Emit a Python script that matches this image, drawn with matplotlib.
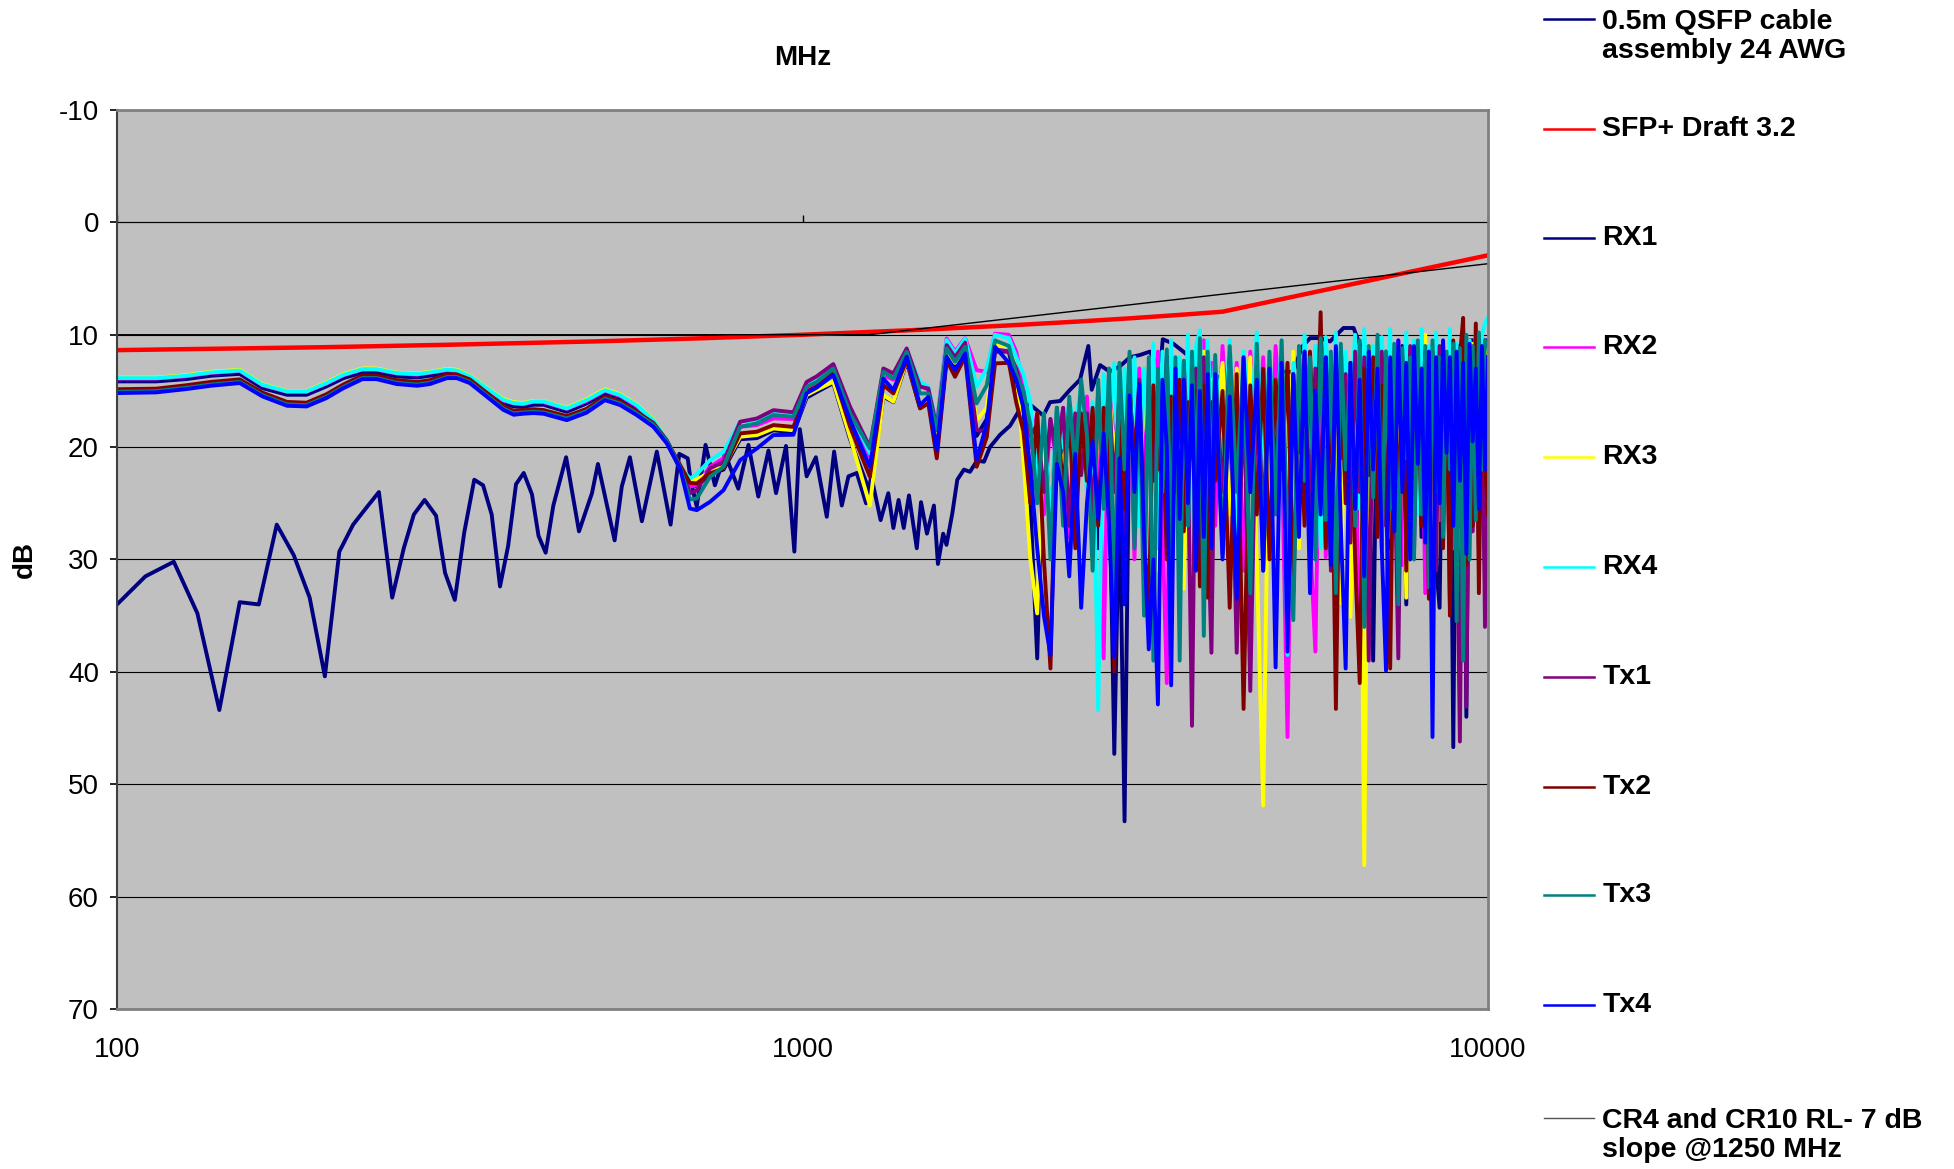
import matplotlib
matplotlib.use("Agg")
import matplotlib.pyplot as plt
from matplotlib.lines import Line2D
from matplotlib.ticker import NullLocator

plt.rcParams["font.family"] = ["Liberation Sans", "DejaVu Sans"]
plt.rcParams["axes.unicode_minus"] = False

# ---------------------------------------------------------------
# Return loss data (MHz, dB)
# ---------------------------------------------------------------

# 0.5m QSFP cable assembly 24 AWG
qsfp_f = [100, 110, 121, 131, 141, 151, 161, 171, 181, 191,
          201, 211, 221, 231, 241, 252, 262, 271, 281, 292,
          301, 311, 321, 332, 342, 352, 362, 372, 382, 392,
          403, 412, 422, 433, 452, 472, 493, 503, 532, 545,
          560, 583, 613, 642, 661, 680, 687, 701, 722, 745,
          771, 806, 834, 862, 892, 915, 946, 973, 991, 1014,
          1046, 1085, 1112, 1141, 1167, 1200, 1238, 1260, 1300, 1334,
          1357, 1381, 1405, 1430, 1468, 1489, 1519, 1555, 1576, 1604,
          1622, 1654, 1682, 1720, 1755, 1797, 1840, 1877, 1942, 2008,
          2077, 2147, 2246, 2297, 2375, 2456, 2540, 2612, 2642, 2717,
          2809, 2905, 3005, 3107, 3213, 3323, 3354, 3475, 3593, 3716,
          3843, 4000, 4200, 4400, 4545, 4700, 4918, 5202, 5351, 5501,
          5688, 5883, 6155, 6368, 6586, 6872, 7104, 7400, 7800, 8300,
          8800, 9400, 10000]
qsfp_db = [34.0, 31.5, 30.2, 34.8, 43.4, 33.8, 34.0, 26.9, 29.6, 33.4,
           40.4, 29.3, 26.9, 25.4, 24.0, 33.4, 29.0, 26.0, 24.7, 26.1,
           31.2, 33.6, 27.6, 22.9, 23.4, 26.0, 32.4, 28.8, 23.3, 22.3,
           24.2, 27.9, 29.4, 25.2, 20.9, 27.5, 24.1, 21.5, 28.3, 23.5,
           20.9, 26.6, 20.4, 26.9, 20.6, 21.0, 23.0, 25.3, 19.8, 23.4,
           20.6, 23.7, 19.8, 24.4, 20.3, 24.1, 19.9, 29.3, 18.4, 22.6,
           20.9, 26.2, 20.4, 25.2, 22.6, 22.3, 25.0, 22.6, 26.5, 24.1,
           27.2, 24.7, 27.2, 24.3, 29.0, 24.9, 27.7, 25.2, 30.4, 27.7,
           28.7, 25.9, 22.9, 22.0, 22.2, 21.2, 21.3, 20.0, 18.9, 18.1,
           16.6, 16.2, 17.2, 16.0, 15.9, 14.9, 14.0, 11.0, 14.9, 12.7,
           13.3, 12.8, 12.0, 11.8, 11.5, 13.3, 10.4, 10.8, 11.5, 12.3,
           12.8, 13.5, 15.0, 17.5, 17.9, 15.5, 13.3, 13.3, 11.1, 10.3,
           10.3, 10.6, 9.4, 9.4, 11.8, 12.0, 12.8, 12.5, 13.5, 12.0,
           11.5, 10.5, 10.5]

# SFP+ Draft 3.2 limit
sfp_f = [100, 200, 300, 500, 700, 1000, 1500, 2000, 2500, 3000, 3500, 4100, 10000]
sfp_db = [11.37, 11.11, 10.9, 10.59, 10.33, 10.0, 9.55, 9.17, 8.84, 8.54, 8.26, 7.95, 2.93]

# CR4 and CR10 RL limit
cr4_f = [100, 1250, 10000]
cr4_db = [10.0, 10.0, 3.68]

# lane sweeps: smooth low band at its turning points, noisy band on a common grid
f_lo = [100, 114, 126, 137, 151, 163, 177, 189, 202, 214, 228, 239, 256, 274, 286, 303,
        313, 327, 346, 366, 379, 391, 405, 419,
        453, 484, 515, 542, 573, 606, 634, 663, 685, 701,
        733, 767, 811, 858, 907, 970, 1014, 1049, 1109, 1173, 1254, 1312, 1357, 1419,
        1484, 1526, 1570, 1623, 1669, 1727, 1795, 1857, 1909]
f_hi = list(range(2000, 4000, 50)) + list(range(4000, 10001, 100))

rx1_lo = [14.15, 14.15, 13.95, 13.65, 13.48, 14.75, 15.34, 15.34, 14.6, 13.86, 13.36, 13.36,
          13.71, 13.8, 13.65, 13.4, 13.48, 14.0, 15.05, 16.09, 16.38, 16.44, 16.23, 16.23,
          16.86, 16.12, 15.23, 15.67, 16.56, 17.9, 19.6, 21.95, 23.2, 23.5,
          22.4, 22.0, 19.3, 19.2, 18.5, 18.7, 15.6, 15.1, 14.3, 19.3, 24.0, 15.5,
          16.0, 12.4, 16.5, 15.8, 20.5, 11.9, 12.8, 11.5, 19.0, 17.5, 11.5]
rx1_hi = [11.5, 14.5, 17.0, 25.0, 38.8, 17.5, 27.0, 17.5, 22.0, 17.0,
          25.5, 18.0, 20.0, 18.0, 29.0, 17.0, 21.0, 47.3, 24.0, 53.3,
          16.0, 22.0, 15.0, 26.0, 15.5, 20.5, 14.5, 29.0, 15.0, 23.0,
          13.5, 27.0, 14.0, 21.5, 13.0, 25.0, 14.5, 19.0, 12.5, 28.0,
          14.0, 22.0, 12.5, 30.0, 13.5, 24.0, 12.0, 27.5, 14.0, 21.0,
          12.5, 33.0, 13.0, 22.5, 11.5, 28.0, 12.5, 24.0, 11.0, 30.0,
          13.0, 23.0, 12.0, 27.0, 11.5, 32.0, 12.5, 21.5, 39.0, 12.0,
          25.0, 11.5, 29.0, 13.0, 22.0, 11.0, 34.0, 12.5, 24.5, 11.5,
          28.0, 12.0, 21.0, 11.0, 30.5, 34.3, 12.5, 23.0, 11.5, 46.7,
          12.0, 27.0, 11.0, 44.0, 12.5, 24.0, 10.5, 29.0, 12.0, 32.0,
          20.0]

rx2_lo = [13.9, 13.9, 13.7, 13.4, 13.22, 14.5, 15.08, 15.08, 14.35, 13.6, 13.1, 13.1,
          13.45, 13.55, 13.38, 13.15, 13.22, 13.75, 14.8, 15.85, 16.12, 16.18, 15.97, 16.0,
          16.6, 15.9, 15.0, 15.45, 16.35, 17.7, 19.5, 21.9, 23.5, 23.38,
          21.75, 21.0, 18.19, 18.04, 17.45, 17.5, 14.78, 14.3, 13.15, 17.45, 20.86, 13.6,
          14.0, 11.4, 14.5, 14.9, 18.0, 10.33, 11.5, 10.3, 13.15, 13.3, 9.9]
rx2_hi = [10.0, 11.5, 14.7, 20.0, 17.0, 26.0, 17.5, 22.0, 16.5, 28.0,
          17.0, 19.0, 15.5, 24.0, 15.0, 38.8, 14.0, 20.5, 14.0, 26.0,
          13.5, 30.0, 13.0, 22.5, 13.5, 19.0, 11.5, 27.0, 41.0, 12.0,
          21.0, 13.0, 25.0, 11.0, 18.5, 12.0, 24.0, 10.5, 20.0, 12.5,
          27.0, 11.0, 22.0, 12.5, 31.0, 11.5, 20.5, 12.0, 26.0, 11.0,
          19.5, 45.8, 12.0, 24.0, 11.5, 28.0, 38.2, 11.0, 29.8, 12.0,
          36.8, 11.5, 23.0, 12.5, 20.0, 36.3, 11.0, 25.0, 12.0, 18.5,
          11.5, 27.0, 12.0, 21.0, 10.5, 30.5, 11.5, 19.5, 12.5, 24.0,
          11.0, 33.0, 12.0, 22.0, 10.8, 26.5, 11.5, 20.0, 12.0, 29.0,
          11.0, 23.5, 12.5, 31.0, 10.5, 19.0, 11.5, 25.0, 10.5, 14.0,
          12.5]

rx3_lo = [13.82, 13.82, 13.6, 13.3, 13.12, 14.4, 15.0, 15.0, 14.25, 13.5, 13.0, 13.0,
          13.38, 13.45, 13.3, 13.05, 13.12, 13.65, 14.7, 15.72, 16.0, 16.08, 15.88, 15.9,
          16.5, 15.75, 14.85, 15.3, 16.2, 17.55, 19.4, 21.8, 22.94, 22.9,
          22.2, 21.75, 19.08, 18.93, 18.34, 18.5, 15.37, 14.9, 14.18, 19.08, 25.2, 15.37,
          15.96, 12.26, 16.26, 15.6, 19.5, 11.66, 12.5, 11.3, 17.6, 16.5, 11.0]
rx3_hi = [11.0, 13.0, 21.0, 30.0, 34.8, 18.0, 28.0, 18.5, 22.0, 17.5,
          26.0, 17.0, 20.0, 30.5, 16.0, 24.0, 15.0, 21.0, 15.5, 27.0,
          14.5, 19.0, 25.5, 14.0, 22.0, 15.0, 31.0, 12.5, 18.0, 24.0,
          12.8, 21.0, 32.6, 15.0, 38.3, 12.0, 20.0, 11.5, 27.5, 14.0,
          19.5, 12.5, 26.0, 13.0, 23.0, 12.0, 30.0, 51.9, 13.5, 21.0,
          12.0, 25.0, 11.5, 29.0, 13.0, 18.0, 12.5, 27.0, 11.5, 22.0,
          13.0, 33.9, 12.0, 35.1, 20.0, 12.5, 57.2, 11.0, 24.0, 13.5,
          19.0, 12.0, 28.0, 11.5, 22.5, 13.0, 33.4, 11.0, 18.5, 12.5,
          26.0, 10.0, 21.0, 12.5, 30.0, 11.0, 19.5, 12.0, 24.5, 10.5,
          22.0, 11.5, 28.0, 12.0, 18.0, 10.8, 25.0, 12.0, 20.5, 11.5,
          13.0]

rx4_lo = [13.86, 13.86, 13.65, 13.35, 13.18, 14.45, 15.04, 15.04, 14.3, 13.56, 13.06, 13.06,
          13.41, 13.5, 13.35, 13.1, 13.18, 13.7, 14.75, 15.79, 16.08, 16.14, 15.93, 15.93,
          16.56, 15.82, 14.93, 15.37, 16.26, 17.6, 19.38, 21.75, 22.8, 22.4,
          21.16, 20.42, 17.74, 17.6, 16.85, 17.0, 14.5, 14.0, 12.85, 16.85, 20.56, 13.44,
          13.59, 11.51, 14.18, 14.63, 18.19, 10.47, 11.66, 10.33, 14.63, 13.0, 10.0]
rx4_hi = [10.3, 12.0, 13.5, 16.0, 23.0, 17.0, 27.0, 16.5, 20.0, 16.0,
          18.0, 14.5, 24.0, 16.0, 43.4, 13.5, 17.5, 12.5, 25.0, 13.0,
          20.0, 12.0, 27.0, 13.0, 18.5, 10.8, 29.0, 11.5, 22.0, 10.5,
          25.0, 12.0, 19.0, 10.0, 30.0, 11.0, 9.6, 21.0, 10.5, 17.5,
          12.0, 21.5, 10.5, 28.5, 11.5, 19.0, 9.8, 22.0, 12.0, 20.0,
          10.5, 38.5, 12.5, 24.5, 10.0, 20.0, 11.0, 29.0, 10.2, 18.5,
          9.8, 22.0, 11.5, 16.5, 10.0, 25.5, 9.5, 19.0, 11.0, 21.0,
          10.2, 17.0, 9.5, 23.5, 11.0, 15.5, 9.8, 20.0, 10.5, 26.0,
          9.5, 18.0, 11.0, 22.5, 9.8, 16.0, 10.5, 24.0, 9.5, 19.0,
          10.8, 21.5, 9.2, 17.0, 10.5, 23.0, 9.0, 18.5, 10.0, 9.0,
          8.5]

tx1_lo = [15.05, 14.98, 14.7, 14.4, 14.16, 15.35, 16.17, 16.24, 15.5, 14.6, 13.82, 13.82,
          14.25, 14.4, 14.25, 13.73, 13.73, 14.17, 15.35, 16.54, 16.97, 16.9, 16.83, 16.9,
          17.4, 16.75, 15.65, 16.05, 16.9, 17.85, 19.4, 21.7, 24.12, 23.83,
          21.9, 21.3, 17.74, 17.45, 16.71, 16.9, 14.2, 13.7, 12.61, 16.4, 20.0, 13.0,
          13.44, 11.22, 14.63, 14.78, 18.3, 10.92, 12.0, 10.7, 18.49, 18.6, 11.3]
tx1_hi = [11.5, 13.0, 15.5, 19.0, 18.0, 24.0, 17.5, 21.0, 16.5, 27.0,
          17.0, 22.5, 17.0, 26.0, 17.0, 20.0, 15.0, 24.0, 15.0, 29.0,
          15.0, 21.0, 14.0, 27.5, 14.0, 23.0, 15.0, 19.5, 12.0, 25.0,
          14.0, 30.0, 12.5, 21.0, 44.8, 13.0, 22.0, 12.0, 26.0, 38.3,
          13.5, 24.0, 12.0, 38.3, 14.0, 41.7, 12.5, 27.0, 13.0, 22.5,
          12.0, 30.0, 13.5, 20.5, 11.5, 26.0, 13.0, 23.5, 12.0, 31.0,
          12.5, 21.0, 13.5, 28.5, 11.5, 24.0, 12.0, 39.0, 13.0, 22.0,
          11.5, 27.0, 12.5, 20.0, 38.8, 12.0, 25.0, 11.0, 29.5, 12.5,
          21.5, 11.5, 26.0, 13.0, 31.0, 11.0, 23.5, 12.0, 34.0, 11.5,
          24.0, 46.2, 12.0, 43.1, 11.0, 27.5, 12.5, 21.0, 11.5, 36.0,
          12.0]

tx2_lo = [14.85, 14.8, 14.5, 14.2, 13.97, 15.15, 15.98, 16.05, 15.3, 14.42, 13.62, 13.62,
          14.05, 14.2, 14.05, 13.53, 13.53, 13.97, 15.15, 16.34, 16.78, 16.7, 16.63, 16.7,
          17.25, 16.6, 15.5, 15.95, 16.85, 17.9, 19.5, 21.6, 23.18, 23.23,
          22.34, 21.9, 18.78, 18.63, 18.04, 18.2, 15.07, 14.6, 13.44, 18.19, 22.64, 14.48,
          15.22, 12.26, 16.56, 16.11, 21.0, 12.26, 13.74, 11.96, 21.75, 19.1, 12.55]
tx2_hi = [12.5, 16.0, 18.6, 25.0, 17.0, 30.0, 39.7, 16.5, 24.0, 16.5,
          29.0, 17.0, 23.0, 16.5, 27.0, 16.5, 21.0, 40.0, 17.0, 25.5,
          15.0, 21.0, 16.0, 28.0, 35.0, 14.5, 22.0, 16.0, 30.0, 15.5,
          24.0, 14.0, 27.5, 16.0, 21.0, 15.0, 32.4, 14.5, 33.4, 16.0,
          23.0, 15.0, 34.3, 13.5, 43.3, 14.5, 26.0, 13.0, 30.0, 14.0,
          22.0, 12.5, 33.0, 14.0, 27.0, 11.5, 24.0, 8.0, 29.0, 13.0,
          43.3, 12.5, 25.0, 14.0, 30.0, 41.0, 13.0, 22.5, 12.0, 28.0,
          14.5, 24.0, 39.7, 12.5, 26.5, 13.5, 31.0, 12.0, 21.5, 14.0,
          27.0, 12.5, 33.5, 11.5, 23.0, 13.5, 29.0, 12.0, 35.0, 10.5,
          25.0, 12.0, 8.5, 30.5, 11.5, 27.0, 9.0, 33.0, 12.5, 21.0,
          26.0]

tx3_lo = [15.08, 15.02, 14.73, 14.43, 14.2, 15.38, 16.2, 16.27, 15.53, 14.64, 13.85, 13.85,
          14.28, 14.43, 14.28, 13.76, 13.76, 14.2, 15.38, 16.57, 17.0, 16.92, 16.86, 16.92,
          17.45, 16.8, 15.7, 16.12, 17.0, 18.0, 19.5, 21.8, 24.66, 24.57,
          22.64, 21.75, 18.19, 17.89, 17.15, 17.3, 14.63, 14.2, 13.0, 17.0, 20.12, 13.29,
          13.89, 11.51, 15.22, 15.22, 18.49, 11.22, 12.41, 11.07, 16.11, 14.5, 10.5]
tx3_hi = [11.0, 13.5, 15.0, 18.0, 25.0, 17.0, 30.0, 16.5, 27.0, 15.5,
          22.0, 14.0, 19.0, 31.0, 14.0, 25.5, 13.0, 33.5, 12.5, 22.0,
          11.5, 29.0, 14.5, 35.0, 12.0, 39.0, 13.0, 24.0, 11.3, 30.0,
          12.0, 39.0, 12.3, 27.0, 11.5, 23.5, 10.3, 36.8, 11.5, 25.0,
          11.8, 29.5, 11.0, 24.0, 12.0, 33.0, 10.8, 31.0, 11.5, 26.0,
          10.5, 28.0, 35.4, 11.0, 23.0, 12.0, 30.0, 10.3, 26.5, 11.5,
          33.0, 10.8, 22.0, 12.5, 27.0, 10.5, 36.0, 11.0, 24.5, 10.0,
          29.0, 11.5, 25.5, 10.8, 34.0, 11.2, 21.0, 12.0, 30.0, 10.5,
          26.0, 11.0, 32.5, 10.5, 24.0, 12.0, 28.0, 11.5, 22.0, 10.8,
          35.5, 11.2, 39.0, 10.0, 30.0, 11.0, 26.5, 9.8, 22.0, 10.5,
          11.0]

tx4_lo = [15.19, 15.13, 14.84, 14.54, 14.3, 15.49, 16.32, 16.38, 15.64, 14.75, 13.95, 13.95,
          14.39, 14.54, 14.39, 13.86, 13.86, 14.3, 15.49, 16.68, 17.12, 17.03, 16.97, 17.03,
          17.6, 16.94, 15.82, 16.26, 17.15, 18.19, 19.67, 21.9, 25.46, 25.61,
          24.87, 23.83, 21.16, 20.12, 18.93, 18.9, 15.2, 14.7, 13.59, 17.6, 21.75, 13.9,
          14.93, 11.96, 16.26, 15.52, 20.27, 11.96, 13.15, 11.66, 21.16, 17.9, 11.07]
tx4_hi = [12.5, 14.0, 16.5, 22.0, 29.0, 35.0, 38.5, 21.5, 24.0, 31.5,
          20.6, 34.3, 25.0, 19.5, 26.4, 18.8, 26.8, 38.7, 21.0, 34.0,
          15.4, 24.0, 14.4, 28.0, 38.0, 30.0, 42.9, 14.0, 20.0, 41.2,
          13.0, 26.4, 14.0, 25.0, 14.5, 31.0, 15.0, 28.0, 13.5, 29.0,
          13.5, 30.0, 15.5, 33.5, 12.0, 24.0, 14.0, 31.0, 13.0, 39.6,
          12.5, 38.2, 13.5, 28.0, 11.5, 33.0, 15.0, 26.0, 12.0, 30.5,
          11.0, 27.0, 39.7, 12.5, 25.5, 14.0, 31.5, 11.5, 22.0, 13.0,
          29.0, 39.9, 12.0, 27.5, 10.5, 24.0, 12.5, 30.0, 11.0, 21.5,
          13.0, 28.5, 11.5, 45.8, 12.0, 25.0, 10.5, 20.5, 12.0, 27.0,
          11.5, 23.0, 12.5, 29.5, 10.8, 19.5, 13.0, 25.5, 11.0, 22.0,
          12.0]

lanes = [
    ("RX1", "#000080", rx1_lo, rx1_hi),
    ("RX2", "#FF00FF", rx2_lo, rx2_hi),
    ("RX3", "#FFFF00", rx3_lo, rx3_hi),
    ("RX4", "#00FFFF", rx4_lo, rx4_hi),
    ("Tx1", "#800080", tx1_lo, tx1_hi),
    ("Tx2", "#800000", tx2_lo, tx2_hi),
    ("Tx3", "#008080", tx3_lo, tx3_hi),
    ("Tx4", "#0000FF", tx4_lo, tx4_hi),
]

# ---------------------------------------------------------------
# Figure
# ---------------------------------------------------------------
fig = plt.figure(figsize=(19.54, 11.69), dpi=100)
ax = fig.add_axes([0.0599, 0.1369, 0.7016, 0.769])
ax.set_facecolor("#C0C0C0")

ax.plot(qsfp_f, qsfp_db, color="#000080", lw=2.8)
ax.plot(sfp_f, sfp_db, color="#FF0000", lw=3.2)
for name, color, lo, hi in lanes:
    ax.plot(f_lo + f_hi, lo + hi, color=color, lw=2.8)
ax.plot(cr4_f, cr4_db, color="black", lw=1.0)

ax.set_xscale("log")
ax.set_xlim(100, 10000)
ax.set_ylim(70, -10)
ax.set_xticks([100, 1000, 10000])
ax.set_xticklabels(["100", "1000", "10000"])
ax.xaxis.set_minor_locator(NullLocator())
ax.set_yticks(range(-10, 71, 10))
ax.tick_params(axis="x", length=0, pad=20, labelsize=20)
ax.tick_params(axis="y", length=5, width=1.2, pad=8, labelsize=20, direction="out")
ax.yaxis.grid(True, color="black", lw=0.8)
ax.set_axisbelow(True)

for side in ["top", "right", "bottom"]:
    ax.spines[side].set_color("#808080")
    ax.spines[side].set_linewidth(2.0)
ax.spines["left"].set_color("#404040")
ax.spines["left"].set_linewidth(1.5)

# category axis crossing at 0 dB (tick marks only)
sec = ax.secondary_xaxis(0.875)
sec.set_xticks([100, 1000, 10000])
sec.xaxis.set_minor_locator(NullLocator())
sec.tick_params(length=5, width=1.0, color="black", labeltop=False, labelbottom=False)
sec.spines["top"].set_color("black")
sec.spines["top"].set_linewidth(0.8)

fig.text(0.411, 0.95, "MHz", ha="center", va="center", fontsize=20, fontweight="bold",
         family=["Liberation Sans Narrow", "Liberation Sans", "DejaVu Sans"])
fig.text(0.0128, 0.521, "dB", rotation=90, ha="center", va="center",
         fontsize=20, fontweight="bold")

# legend, one entry per series down the right-hand side
legend_items = [
    ("0.5m QSFP cable\nassembly 24 AWG", "#000080", 0.984, 0.969, 1.8),
    ("SFP+ Draft 3.2", "#FF0000", 0.890, 0.890, 1.8),
] + [(name, color, y, y, 1.8) for (name, color, lo, hi), y in
     zip(lanes, [0.796, 0.703, 0.609, 0.515, 0.421, 0.327, 0.234, 0.140])] + [
    ("CR4 and CR10 RL- 7 dB\nslope @1250 MHz", "#555555", 0.044, 0.029, 1.0),
]
for label, color, y_line, y_text, lw in legend_items:
    fig.add_artist(Line2D([0.790, 0.816], [y_line, y_line], color=color, lw=lw,
                          transform=fig.transFigure))
    fig.text(0.820, y_text, label, ha="left", va="center", fontsize=20.5,
             fontweight="bold", linespacing=1.15)

fig.savefig("out.png", dpi=100)
